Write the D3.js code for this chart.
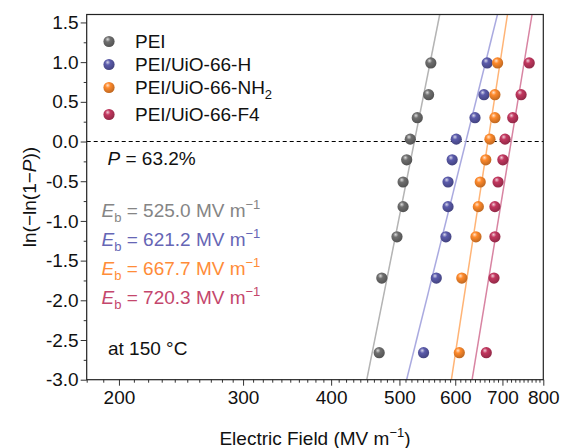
<!DOCTYPE html>
<html>
<head>
<meta charset="utf-8">
<script src="https://cdn.jsdelivr.net/npm/d3@7"></script>
<style>
  body { margin: 0; background: #fff; }
  svg { display: block; font-family: "Liberation Sans", Arial, sans-serif; }
</style>
</head>
<body>
<svg id="chart" width="563" height="448"></svg>
<script>
// ln(-ln(1-P)) for the 10 ranked samples
var yRank = [-2.66, -1.72, -1.20, -0.82, -0.51, -0.23, 0.03, 0.30, 0.59, 0.99];

var seriesNames = ["PEI", "PEI/UiO-66-H", "PEI/UiO-66-NH2", "PEI/UiO-66-F4"];
var fieldPEI = [468, 472, 496, 506, 506, 512, 518, 530, 550, 554];
var fieldH = [541, 564, 582, 586, 586, 594, 602, 640, 659, 666];
var fieldNH2 = [608, 613, 642, 647, 651, 663, 672, 683, 683, 689];
var fieldF4 = [664, 681, 683, 683, 690, 701, 706, 724, 744, 764];

// Weibull fit: characteristic breakdown strength and shape parameter
var ebValues = [525.0, 621.2, 667.7, 720.3];
var betaValues = [19.3, 15.5, 25.1, 23.5];

var xMajor = [200, 300, 400, 500, 600, 700, 800];
var yMajor = [-3.0, -2.5, -2.0, -1.5, -1.0, -0.5, 0.0, 0.5, 1.0, 1.5];

var dotColors = ["#6f6f6f", "#5b5bab", "#ff8a2c", "#c2375f"];
var lineColors = ["#b4b4b4", "#aaaae0", "#ffb476", "#d884a2"];
var textColors = ["#858585", "#6666b5", "#ff8c38", "#c4466c"];

var fields = [fieldPEI, fieldH, fieldNH2, fieldF4];

function drawChart() {
  var svg = d3.select("#chart");
  var pLeft = 86.7, pRight = 543.3, pTop = 14.5, pBottom = 379.7;

  var x = d3.scaleLog().domain([180, 800]).range([pLeft, pRight]);
  var y = d3.scaleLinear().domain([-3, 1.6]).range([pBottom, pTop]);

  // gradients for the shaded ball markers
  var defs = svg.append("defs");
  dotColors.forEach(function (c, i) {
    var g = defs.append("radialGradient")
      .attr("id", "ball" + i)
      .attr("cx", "40%").attr("cy", "35%").attr("r", "65%")
      .attr("fx", "38%").attr("fy", "30%");
    g.append("stop").attr("offset", "0%").attr("stop-color", d3.interpolateRgb(c, "#fff")(0.75));
    g.append("stop").attr("offset", "35%").attr("stop-color", c);
    g.append("stop").attr("offset", "100%").attr("stop-color", d3.interpolateRgb(c, "#000")(0.25));
  });

  defs.append("clipPath").attr("id", "plotclip")
    .append("rect").attr("x", pLeft).attr("y", pTop)
    .attr("width", pRight - pLeft).attr("height", pBottom - pTop);

  // axes
  var minorX = d3.range(180, 801, 10).filter(function (v) { return xMajor.indexOf(v) < 0; });
  var minorY = d3.range(-2.75, 1.6, 0.5);

  svg.append("g").attr("transform", "translate(0," + pBottom + ")")
    .call(d3.axisBottom(x).tickValues(minorX).tickFormat("").tickSize(3).tickSizeOuter(0))
    .call(function (g) { g.select(".domain").remove(); });
  var xAxis = svg.append("g").attr("transform", "translate(0," + pBottom + ")")
    .call(d3.axisBottom(x).tickValues(xMajor).tickFormat(d3.format("d")).tickSize(6).tickSizeOuter(0));
  xAxis.select(".domain").remove();
  xAxis.selectAll("text").attr("font-size", 19).attr("fill", "#111").attr("y", 10).attr("dy", "0.75em");

  svg.append("g").attr("transform", "translate(" + pLeft + ",0)")
    .call(d3.axisLeft(y).tickValues(minorY).tickFormat("").tickSize(3).tickSizeOuter(0))
    .call(function (g) { g.select(".domain").remove(); });
  var yAxis = svg.append("g").attr("transform", "translate(" + pLeft + ",0)")
    .call(d3.axisLeft(y).tickValues(yMajor).tickFormat(function (d) { return d.toFixed(1); }).tickSize(6).tickSizeOuter(0));
  yAxis.select(".domain").remove();
  yAxis.selectAll("text").attr("font-size", 19).attr("fill", "#111").attr("x", -8);

  svg.selectAll(".tick line").attr("stroke", "#333");

  // P = 63.2% reference line
  svg.append("line")
    .attr("x1", pLeft).attr("x2", pRight)
    .attr("y1", y(0)).attr("y2", y(0))
    .attr("stroke", "#000").attr("stroke-width", 1.1)
    .attr("stroke-dasharray", "4,3");

  // fitted lines
  var plot = svg.append("g").attr("clip-path", "url(#plotclip)");
  ebValues.forEach(function (eb, i) {
    var ends = [-3, 1.6].map(function (v) { return [eb * Math.exp(v / betaValues[i]), v]; });
    plot.append("line")
      .attr("x1", x(ends[0][0])).attr("y1", y(ends[0][1]))
      .attr("x2", x(ends[1][0])).attr("y2", y(ends[1][1]))
      .attr("stroke", lineColors[i]).attr("stroke-width", 1.5);
  });

  // data points
  fields.forEach(function (arr, i) {
    plot.append("g").selectAll("circle")
      .data(arr)
      .enter().append("circle")
      .attr("cx", function (d) { return x(d); })
      .attr("cy", function (d, j) { return y(yRank[j]); })
      .attr("r", 5.6)
      .attr("fill", "url(#ball" + i + ")");
  });

  // frame
  svg.append("rect")
    .attr("x", pLeft).attr("y", pTop)
    .attr("width", pRight - pLeft).attr("height", pBottom - pTop)
    .attr("fill", "none").attr("stroke", "#222").attr("stroke-width", 1.2);

  // legend
  var legendY = [41.5, 64.5, 87.5, 114.5];
  seriesNames.forEach(function (name, i) {
    svg.append("circle")
      .attr("cx", 109).attr("cy", legendY[i]).attr("r", 5.6)
      .attr("fill", "url(#ball" + i + ")");
    var t = svg.append("text")
      .attr("x", 135).attr("y", legendY[i] + 6.8)
      .attr("font-size", 19).attr("fill", "#111");
    if (name.slice(-3) === "NH2") {
      t.append("tspan").text(name.slice(0, -1));
      t.append("tspan").attr("font-size", 13).attr("dy", 5).text("2");
    } else {
      t.text(name);
    }
  });

  // annotations
  var pText = svg.append("text").attr("x", 107.5).attr("y", 165)
    .attr("font-size", 19).attr("fill", "#111");
  pText.append("tspan").attr("font-style", "italic").text("P");
  pText.append("tspan").text(" = 63.2%");

  var ebY = [216.5, 245.8, 275, 304.2];
  ebValues.forEach(function (eb, i) {
    var t = svg.append("text").attr("x", 101.5).attr("y", ebY[i])
      .attr("font-size", 19).attr("fill", textColors[i]);
    t.append("tspan").attr("font-style", "italic").text("E");
    t.append("tspan").attr("font-size", 13).attr("dy", 5).text("b");
    t.append("tspan").attr("dy", -5).text(" = " + eb.toFixed(1) + " MV m");
    t.append("tspan").attr("font-size", 13).attr("dy", -8).text("\u22121");
  });

  svg.append("text").attr("x", 108).attr("y", 355)
    .attr("font-size", 19).attr("fill", "#111").text("at 150 \u00b0C");

  // axis titles
  var xTitle = svg.append("text")
    .attr("x", 315).attr("y", 445)
    .attr("text-anchor", "middle").attr("font-size", 19).attr("fill", "#111");
  xTitle.append("tspan").text("Electric Field (MV m");
  xTitle.append("tspan").attr("font-size", 13).attr("dy", -8).text("\u22121");
  xTitle.append("tspan").attr("dy", 8).text(")");

  var yTitle = svg.append("text")
    .attr("transform", "translate(36,197) rotate(-90)")
    .attr("text-anchor", "middle").attr("font-size", 19).attr("fill", "#111");
  yTitle.append("tspan").text("ln(\u2212ln(1\u2212");
  yTitle.append("tspan").attr("font-style", "italic").text("P");
  yTitle.append("tspan").text("))");
}

drawChart();
</script>
</body>
</html>
